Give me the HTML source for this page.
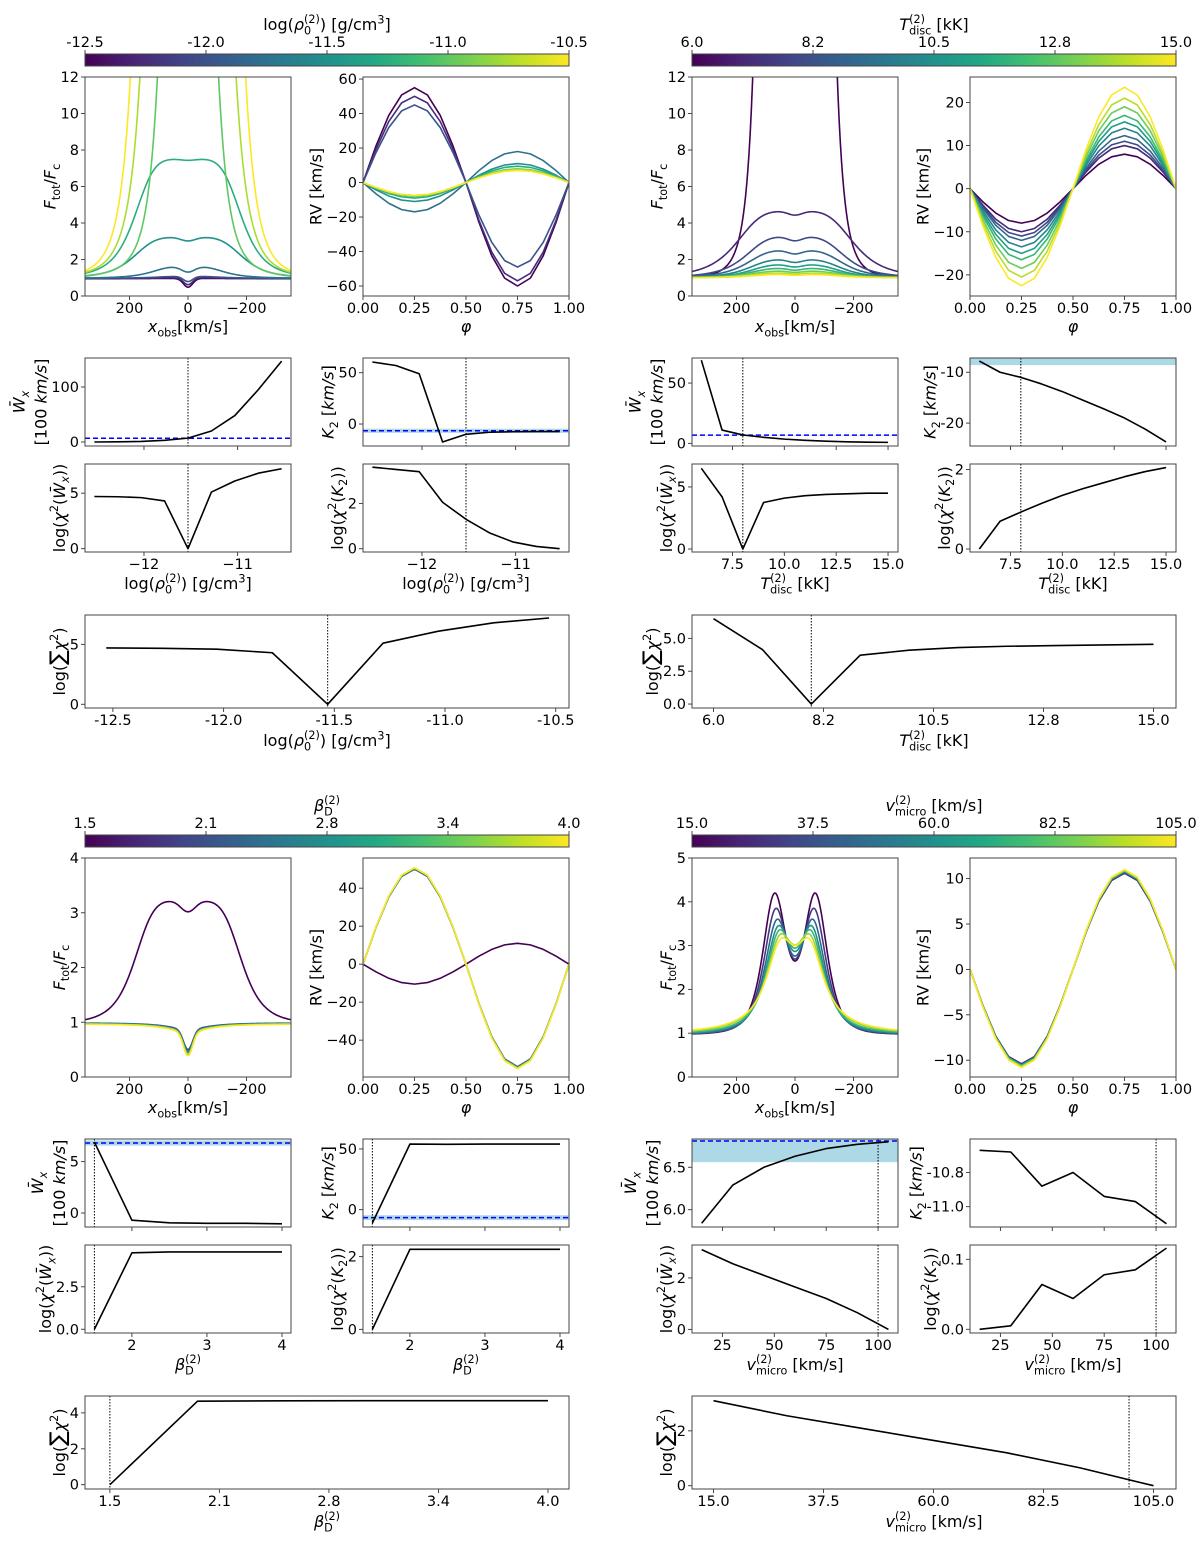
<!DOCTYPE html>
<html><head><meta charset="utf-8">
<style>
html,body{margin:0;padding:0;background:#fff;}
svg text{font-family:"DejaVu Sans","Liberation Sans",sans-serif;fill:#000;}
</style></head>
<body>
<svg id="fig" xmlns="http://www.w3.org/2000/svg" width="1200" height="1538" viewBox="0 0 1200 1538">
<defs>
<linearGradient id="viridis" x1="0" x2="1" y1="0" y2="0">
<stop offset="0" stop-color="#440154"/><stop offset="0.1" stop-color="#482475"/><stop offset="0.2" stop-color="#414487"/><stop offset="0.3" stop-color="#355f8d"/><stop offset="0.4" stop-color="#2a788e"/><stop offset="0.5" stop-color="#21918c"/><stop offset="0.6" stop-color="#22a884"/><stop offset="0.7" stop-color="#44bf70"/><stop offset="0.8" stop-color="#7ad151"/><stop offset="0.9" stop-color="#bddf26"/><stop offset="1" stop-color="#fde725"/>
</linearGradient>
</defs>
</svg>
<script>
// ---------- data ----------
const phases=[0,0.0625,0.125,0.1875,0.25,0.3125,0.375,0.4375,0.5,0.5625,0.625,0.6875,0.75,0.8125,0.875,0.9375,1];
const sineShape=[0,0.3827,0.7071,0.9239,1,0.9239,0.7071,0.3827,0,-0.3827,-0.7071,-0.9239,-1,-0.9239,-0.7071,-0.3827,0];

// density quadrant
const rhoVals=[-12.53,-12.28,-12.03,-11.78,-11.53,-11.28,-11.03,-10.78,-10.53];
const rhoWx=[0,0.3,1,3,7,20,48,95,147];
const rhoK2=[60.4,57,49,-17.5,-10,-8,-7.5,-7.3,-7.3];
const rhoChiWx=[4.7,4.68,4.6,4.3,0,5.1,6.1,6.8,7.2];
const rhoChiK2=[3.6,3.5,3.4,2.05,1.3,0.7,0.3,0.1,0.0];
const rhoSum=[4.7,4.67,4.6,4.3,0,5.1,6.1,6.8,7.2];
const rhoRvPeak=[55,50,45,-17,-11,-9,-8,-7.5,-7.5];
const rhoRvTrough=[-60,-57,-49,18,11,9.5,8,7.5,7];
const rhoProfBase=[0.95,0.96,0.97,0.97,0.97,1,1,1,1];
const rhoProfH=[0.03,0.06,0.12,0.65,2.25,6.5,40,60,80];
const rhoProfHw=[120,120,120,130,190,185,82,122,145];
const rhoProfP=[3,3,3,3.5,4.6,5,4,5,6];
const rhoProfDip=[0,0,0,0.4,0.09,0.01,0,0,0];
const rhoProfAbs=[0.48,0.38,0.28,0.05,0,0,0,0,0];
const rhoProfWing=[0.02,0.02,0.02,0,0,0,0,0,0];

// temperature quadrant
const tVals=[6,7,8,9,10,11,12,13,14,15];
const tWx=[69,11,7,5,3.5,2.5,1.8,1.3,1,0.8];
const tK2=[-7.8,-10,-11,-12.3,-13.8,-15.5,-17.2,-19,-21.2,-23.7];
const tChiWx=[6.5,4.2,0,3.75,4.1,4.3,4.4,4.45,4.5,4.5];
const tChiK2=[0,0.7,0.93,1.15,1.35,1.52,1.67,1.82,1.95,2.05];
const tSum=[6.5,4.15,0,3.72,4.1,4.3,4.4,4.45,4.5,4.55];
const tRvPeak=[-8,-10,-11,-12,-13.5,-15,-16.5,-18.5,-20.5,-22.5];
const tRvTrough=[8,10,11,12.3,14,15.5,17,19,21,23.5];
const tProfBase=[1,1,1,1,1,1,1,1,1,1];
const tProfH=[200,3.65,2.25,1.5,1.0,0.72,0.52,0.37,0.26,0.18];
const tProfHw=[90,205,175,170,165,160,160,160,160,160];
const tProfP=[6,4.2,4,4,4,4,4,4,4,4];
const tProfDip=[0,0.06,0.1,0.13,0.16,0.18,0.2,0.2,0.2,0.25];
const tProfAbs=[0,0,0,0,0,0,0,0,0,0];
const tProfWing=[0,0,0,0,0,0,0,0,0,0];

// beta quadrant
const bVals=[1.5,2,2.5,3,3.5,4];
const bWx=[6.9,-0.7,-0.95,-1.0,-1.0,-1.05];
const bK2=[-11,54,53.8,54,54,54];
const bChiWx=[0,4.5,4.55,4.55,4.55,4.55];
const bChiK2=[0,2.2,2.2,2.2,2.2,2.2];
const bSum=[0,4.65,4.67,4.68,4.68,4.68];
const bRvPeak=[-10.5,50,50.3,50.5,50.6,50.8];
const bRvTrough=[11,-54,-54.3,-54.5,-54.7,-55];
const bProfBase=[0.97,0.99,0.985,0.98,0.975,0.97];
const bProfH=[2.25,0,0,0,0,0];
const bProfHw=[185,100,100,100,100,100];
const bProfP=[5.2,3,3,3,3,3];
const bProfDip=[0.09,0,0,0,0,0];
const bProfAbs=[0,0.37,0.39,0.41,0.42,0.43];
const bProfWing=[0,0.12,0.13,0.14,0.14,0.15];

// microturbulence quadrant
const vVals=[15,30,45,60,75,90,105];
const vWx=[5.84,6.29,6.5,6.63,6.72,6.77,6.8];
const vK2=[-10.67,-10.68,-10.88,-10.8,-10.94,-10.97,-11.1];
const vChiWx=[3.1,2.55,2.1,1.65,1.2,0.65,0];
const vChiK2=[0,0.005,0.064,0.044,0.078,0.085,0.116];
const vSum=[3.1,2.55,2.1,1.65,1.2,0.65,0];
const vRvPeak=[-10.4,-10.45,-10.5,-10.55,-10.6,-10.7,-10.8];
const vRvTrough=[10.6,10.65,10.7,10.8,10.85,10.9,11.0];
const vProfPeak=[4.2,3.85,3.6,3.45,3.35,3.25,3.15];
const vProfCenter=[70,66,62,58,55,52,50];
const vProfWidth=[73,70,67,64,62,61,60];
const vProfPow=[2,1.8,1.6,1.4,1.25,1.1,1];
const vProfBase=0.97;

// observations / best fit
const obsWx=6.81, obsWxErr=0.25, obsK2=-6.6, obsK2Err=2;
const bestRho=-11.53, bestT=8, bestBeta=1.5, bestV=100;

// ---------- helpers ----------
const NS='http://www.w3.org/2000/svg';
const svg=document.getElementById('fig');
function mk(tag,attrs,parent){const e=document.createElementNS(NS,tag);for(const k in attrs)e.setAttribute(k,attrs[k]);(parent||svg).appendChild(e);return e;}
const VIR=['#440154','#482475','#414487','#355f8d','#2a788e','#21918c','#22a884','#44bf70','#7ad151','#bddf26','#fde725'];
function hex(h){return [parseInt(h.slice(1,3),16),parseInt(h.slice(3,5),16),parseInt(h.slice(5,7),16)];}
function viridis(t){t=Math.max(0,Math.min(1,t));const f=t*10,i=Math.min(9,Math.floor(f)),r=f-i;const a=hex(VIR[i]),b=hex(VIR[i+1]);return 'rgb('+a.map((v,k)=>Math.round(v+(b[k]-v)*r)).join(',')+')';}

function mathText(parent,x,y,parts,size,anchor,rot){
  const t=mk('text',{x:x,y:y,'font-size':size,'text-anchor':anchor||'middle'},parent);
  if(rot)t.setAttribute('transform','rotate(-90 '+x+' '+y+')');
  let off=0,lastLen=0,pending=0;
  parts.forEach(p=>{
    const s=p[0],k=p[1]||'';
    const ts=mk('tspan',{},t);
    let target=0,fs=size,dx=pending;pending=0;
    if(k==='sub'||k==='subi'){target=0.28*size;fs=0.7*size;}
    if(k==='sup'){target=-0.42*size;fs=0.7*size;}
    if(k==='supback'){target=-0.45*size;fs=0.7*size;dx=-lastLen;}
    if(k==='big'){fs=1.35*size;}
    if(k==='i'||k==='subi')ts.setAttribute('font-style','italic');
    if(target-off!==0)ts.setAttribute('dy',(target-off).toFixed(2));
    off=target;
    if(dx)ts.setAttribute('dx',(dx).toFixed(2));
    ts.setAttribute('font-size',fs.toFixed(2));
    ts.textContent=s;
    const len=ts.getComputedTextLength();
    if(k==='supback'&&lastLen>len)pending=lastLen-len;
    lastLen=len;
  });
  return t;
}

const OFF={tl:[0,0],tr:[607,0],bl:[0,781],br:[607,781]};
const BOX={profile:[85,77,291,296],rv:[363,77,569,296],wx:[85,358,291,446],k2:[363,358,569,446],cwx:[85,464,291,552],ck2:[363,464,569,552],wide:[85,615,569,708],cbar:[85,54,569,66]};
let clipId=0;

function panel(q,key,xd,yd,o){
  const b=BOX[key],ox=OFF[q][0],oy=OFF[q][1];
  const x0=b[0]+ox,y0=b[1]+oy,x1=b[2]+ox,y1=b[3]+oy;
  const g=mk('g',{});
  
  
  const sx=v=>x0+(v-xd[0])/(xd[1]-xd[0])*(x1-x0);
  const sy=v=>y1-(v-yd[0])/(yd[1]-yd[0])*(y1-y0);
  const cid='clip'+(clipId++);
  const cp=mk('clipPath',{id:cid},g);mk('rect',{x:x0,y:y0,width:x1-x0,height:y1-y0},cp);
  const data=mk('g',{'clip-path':'url(#'+cid+')'},g);
  
  
  const ax=mk('g',{},g);
  o.xt.forEach((v,i)=>{const X=sx(v);mk('line',{x1:X,x2:X,y1:y1,y2:y1+4,stroke:'#333','stroke-width':0.9},ax);
    if(o.xl){const t=mk('text',{x:X,y:y1+17,'font-size':14.5,'text-anchor':'middle'},ax);t.textContent=o.xl[i];
      
      }});
  let maxW=0;
  o.yt.forEach((v,i)=>{const Y=sy(v);mk('line',{x1:x0-4,x2:x0,y1:Y,y2:Y,stroke:'#333','stroke-width':0.9},ax);
    const t=mk('text',{x:x0-6,y:Y+5,'font-size':14.5,'text-anchor':'end'},ax);t.textContent=o.yl[i];
    
    
    maxW=Math.max(maxW,t.getComputedTextLength());});
  mk('rect',{x:x0,y:y0,width:x1-x0,height:y1-y0,fill:'none',stroke:'#444','stroke-width':1},ax);
  if(o.xtitle){const t=mathText(ax,(x0+x1)/2,y1+o.xtOff,o.xtitle,16,'middle',false);
    
    }
  const bx=x0-6-maxW-5;
  if(o.ytitle){const t=mathText(ax,bx,(y0+y1)/2,o.ytitle,16,'middle',true);
    
    }
  if(o.ytitle2){const t1=mathText(ax,bx-22,(y0+y1)/2,o.ytitle2[0],16,'middle',true);
    
    
    const t2=mathText(ax,bx,(y0+y1)/2,o.ytitle2[1],16,'middle',true);
    
    }
  return {sx,sy,data,x0,x1,y0,y1};
}
function poly(P,xs,ys,color,w,name,dash){
  const pts=xs.map((x,i)=>P.sx(x).toFixed(2)+','+P.sy(ys[i]).toFixed(2)).join(' ');
  const e=mk('polyline',{points:pts,fill:'none',stroke:color,'stroke-width':w,'stroke-linejoin':'round'},P.data);
  if(dash)e.setAttribute('stroke-dasharray',dash);
  
  
  return e;
}
function vline(P,v){const X=P.sx(v);const e=mk('line',{x1:X,x2:X,y1:P.y0,y2:P.y1,stroke:'#000','stroke-width':1,'stroke-dasharray':'1.5,1.5'},P.data);
  
  }
function hobs(P,v,err){const a=P.sy(v+err),b=P.sy(v-err);
  const r=mk('rect',{x:P.x0,y:Math.min(a,b),width:P.x1-P.x0,height:Math.abs(b-a),fill:'#add8e6'},P.data);
  
  
  const Y=P.sy(v);const l=mk('line',{x1:P.x0,x2:P.x1,y1:Y,y2:Y,stroke:'#0000ff','stroke-width':1.5,'stroke-dasharray':'5,3'},P.data);
  
  }
function colorbar(q,labels,title){
  const b=BOX.cbar,ox=OFF[q][0],oy=OFF[q][1];
  const g=mk('g',{});
  
  
  const x0=b[0]+ox,y0=b[1]+oy,w=b[2]-b[0],h=b[3]-b[1];
  mk('rect',{x:x0,y:y0,width:w,height:h,fill:'url(#viridis)',stroke:'#444','stroke-width':1},g);
  labels.forEach((s,i)=>{const X=x0+w*i/(labels.length-1);
    mk('line',{x1:X,x2:X,y1:y0,y2:y0-4,stroke:'#333','stroke-width':0.9},g);
    const t=mk('text',{x:X,y:y0-7,'font-size':14.5,'text-anchor':'middle'},g);t.textContent=s;
    
    });
  const t=mathText(g,x0+w/2,y0-24,title,16,'middle',false);
  
  
}
const profGrid=[];for(let x=-355;x<=355;x+=4)profGrid.push(x);
function profileVal(x,i,A){const ax=Math.abs(x);
  return A.base[i]+A.H[i]/(1+Math.pow(ax/A.hw[i],A.p[i]))*(1-A.d[i]*Math.exp(-(x/35)*(x/35)))-A.a[i]*Math.exp(-(x/22)*(x/22))-A.w[i]/(1+(x/80)*(x/80));}
function rvSeries(peak,trough){return sineShape.map(s=>s>=0?peak*s:trough*(-s));}

// ---------- quadrant builder ----------
function quadrant(q,cfg){
  colorbar(q,cfg.cbLabels,cfg.param);
  const n=cfg.vals.length;
  const Pp=panel(q,'profile',[352,-352],cfg.profY,{xt:[200,0,-200],xl:['200','0','\u2212200'],yt:cfg.profYt,yl:cfg.profYl,xtOff:36,
    xtitle:[['x','i'],['obs','sub'],['[km/s]','']],ytitle:[['F','i'],['tot','sub'],['/',''],['F','i'],['c','sub']]});
  for(let i=0;i<n;i++)poly(Pp,profGrid,profGrid.map(x=>cfg.prof(x,i)),viridis(i/(n-1)),1.6,'profile-curve-'+i);
  const Pr=panel(q,'rv',[0,1],cfg.rvY,{xt:[0,0.25,0.5,0.75,1],xl:['0.00','0.25','0.50','0.75','1.00'],yt:cfg.rvYt,yl:cfg.rvYl,xtOff:36,
    xtitle:[['\u03c6','i']],ytitle:[['RV [km/s]','']]});
  for(let i=0;i<n;i++)poly(Pr,phases,rvSeries(cfg.rvPeak[i],cfg.rvTrough[i]),viridis(i/(n-1)),1.6,'rv-curve-'+i);
  const sm={xt:cfg.smXt,xtOff:37};
  const Pw=panel(q,'wx',cfg.smX,cfg.wxY,Object.assign({},sm,{yt:cfg.wxYt,yl:cfg.wxYl,
    ytitle2:[[['W\u0304','i'],['x','subi']],[['[100 ',''],['km/s','i'],[']','']]]}));
  hobs(Pw,obsWx,obsWxErr);vline(Pw,cfg.best);poly(Pw,cfg.vals,cfg.wx,'#000',1.6,'wx-line');
  const Pk=panel(q,'k2',cfg.smX,cfg.k2Y,Object.assign({},sm,{yt:cfg.k2Yt,yl:cfg.k2Yl,
    ytitle:[['K','i'],['2','sub'],[' [',''],['km/s','i'],[']','']]}));
  hobs(Pk,obsK2,obsK2Err);vline(Pk,cfg.best);poly(Pk,cfg.vals,cfg.k2,'#000',1.6,'k2-line');
  const Pcw=panel(q,'cwx',cfg.smX,cfg.cwxY,Object.assign({},sm,{xl:cfg.smXl,yt:cfg.cwxYt,yl:cfg.cwxYl,xtitle:cfg.xtitle,
    ytitle:[['log(',''],['\u03c7','i'],['2','sup'],['(',''],['W\u0304','i'],['x','subi'],['))','']]}));
  vline(Pcw,cfg.best);poly(Pcw,cfg.vals,cfg.cwx,'#000',1.6,'chi2-wx-line');
  const Pck=panel(q,'ck2',cfg.smX,cfg.ck2Y,Object.assign({},sm,{xl:cfg.smXl,yt:cfg.ck2Yt,yl:cfg.ck2Yl,xtitle:cfg.xtitle,
    ytitle:[['log(',''],['\u03c7','i'],['2','sup'],['(',''],['K','i'],['2','sub'],['))','']]}));
  vline(Pck,cfg.best);poly(Pck,cfg.vals,cfg.ck2,'#000',1.6,'chi2-k2-line');
  const Pwd=panel(q,'wide',cfg.wdX,cfg.wdY,{xt:cfg.wdXt,xl:cfg.cbLabels,yt:cfg.wdYt,yl:cfg.wdYl,xtOff:38,xtitle:cfg.xtitle,
    ytitle:[['log(',''],['\u2211','big'],['\u03c7','i'],['2','sup'],[')','']]});
  vline(Pwd,cfg.best);poly(Pwd,cfg.vals,cfg.sum,'#000',1.6,'chi2-sum-line');
}
function modelArr(base,H,hw,p,d,a,w){return {base,H,hw,p,d,a,w};}
const rhoA=modelArr(rhoProfBase,rhoProfH,rhoProfHw,rhoProfP,rhoProfDip,rhoProfAbs,rhoProfWing);
const tA=modelArr(tProfBase,tProfH,tProfHw,tProfP,tProfDip,tProfAbs,tProfWing);
const bA=modelArr(bProfBase,bProfH,bProfHw,bProfP,bProfDip,bProfAbs,bProfWing);
function vProfile(x,i){const c=vProfCenter[i],s=vProfWidth[i],qq=vProfPow[i];
  const L=u=>1/Math.pow(1+(u/s)*(u/s),qq);
  const A=(vProfPeak[i]-vProfBase)/(1+L(2*c));
  return vProfBase+A*(L(x-c)+L(x+c));}

const M='\u2212';
quadrant('tl',{vals:rhoVals,best:bestRho,cbLabels:['-12.5','-12.0','-11.5','-11.0','-10.5'],
  param:[['log(',''],['\u03c1','i'],['0','sub'],['(2)','supback'],[') [g/cm',''],['3','sup'],[']','']],
  xtitle:[['log(',''],['\u03c1','i'],['0','sub'],['(2)','supback'],[') [g/cm',''],['3','sup'],[']','']],
  prof:(x,i)=>profileVal(x,i,rhoA),profY:[0,12],profYt:[0,2,4,6,8,10,12],profYl:['0','2','4','6','8','10','12'],
  rvPeak:rhoRvPeak,rvTrough:rhoRvTrough,rvY:[-65.8,61.2],rvYt:[-60,-40,-20,0,20,40,60],rvYl:[M+'60',M+'40',M+'20','0','20','40','60'],
  smX:[-12.63,-10.43],smXt:[-12,-11],smXl:[M+'12',M+'11'],
  wx:rhoWx,wxY:[-7.3,152.7],wxYt:[0,100],wxYl:['0','100'],
  k2:rhoK2,k2Y:[-21.4,64.3],k2Yt:[0,50],k2Yl:['0','50'],
  cwx:rhoChiWx,cwxY:[-0.3,7.63],cwxYt:[0,5],cwxYl:['0','5'],
  ck2:rhoChiK2,ck2Y:[-0.145,3.74],ck2Yt:[0,2],ck2Yl:['0','2'],
  sum:rhoSum,wdX:[-12.626,-10.44],wdXt:[-12.5,-12,-11.5,-11,-10.5],wdY:[-0.31,7.45],wdYt:[0,5],wdYl:['0','5']});

quadrant('tr',{vals:tVals,best:bestT,cbLabels:['6.0','8.2','10.5','12.8','15.0'],
  param:[['T','i'],['disc','sub'],['(2)','supback'],[' [kK]','']],
  xtitle:[['T','i'],['disc','sub'],['(2)','supback'],[' [kK]','']],
  prof:(x,i)=>profileVal(x,i,tA),profY:[0,12],profYt:[0,2,4,6,8,10,12],profYl:['0','2','4','6','8','10','12'],
  rvPeak:tRvPeak,rvTrough:tRvTrough,rvY:[-24.9,25.9],rvYt:[-20,-10,0,10,20],rvYl:[M+'20',M+'10','0','10','20'],
  smX:[5.55,15.48],smXt:[7.5,10,12.5,15],smXl:['7.5','10.0','12.5','15.0'],
  wx:tWx,wxY:[-2.2,70.8],wxYt:[0,50],wxYl:['0','50'],
  k2:tK2,k2Y:[-24.5,-7.2],k2Yt:[-20,-10],k2Yl:['-20','-10'],
  cwx:tChiWx,cwxY:[-0.24,6.85],cwxYt:[0,5],cwxYl:['0','5'],
  ck2:tChiK2,ck2Y:[-0.075,2.14],ck2Yt:[0,2],ck2Yl:['0','2'],
  sum:tSum,wdX:[5.56,15.46],wdXt:[6,8.25,10.5,12.75,15],wdY:[-0.3,6.78],wdYt:[0,2.5,5],wdYl:['0.0','2.5','5.0']});

quadrant('bl',{vals:bVals,best:bestBeta,cbLabels:['1.5','2.1','2.8','3.4','4.0'],
  param:[['\u03b2','i'],['D','sub'],['(2)','supback']],
  xtitle:[['\u03b2','i'],['D','sub'],['(2)','supback']],
  prof:(x,i)=>profileVal(x,i,bA),profY:[0,4],profYt:[0,1,2,3,4],profYl:['0','1','2','3','4'],
  rvPeak:bRvPeak,rvTrough:bRvTrough,rvY:[-59.4,55.9],rvYt:[-40,-20,0,20,40],rvYl:[M+'40',M+'20','0','20','40'],
  smX:[1.375,4.12],smXt:[2,3,4],smXl:['2','3','4'],
  wx:bWx,wxY:[-1.36,7.2],wxYt:[0,5],wxYl:['0','5'],
  k2:bK2,k2Y:[-14.3,58.2],k2Yt:[0,50],k2Yl:['0','50'],
  cwx:bChiWx,cwxY:[-0.22,4.96],cwxYt:[0,2.5],cwxYl:['0.0','2.5'],
  ck2:bChiK2,ck2Y:[-0.1,2.32],ck2Yt:[0,2],ck2Yl:['0','2'],
  sum:bSum,wdX:[1.358,4.12],wdXt:[1.5,2.125,2.75,3.375,4],wdY:[-0.24,4.94],wdYt:[0,2,4],wdYl:['0','2','4']});

quadrant('br',{vals:vVals,best:bestV,cbLabels:['15.0','37.5','60.0','82.5','105.0'],
  param:[['v','i'],['micro','sub'],['(2)','supback'],[' [km/s]','']],
  xtitle:[['v','i'],['micro','sub'],['(2)','supback'],[' [km/s]','']],
  prof:vProfile,profY:[0,5],profYt:[0,1,2,3,4,5],profYl:['0','1','2','3','4','5'],
  rvPeak:vRvPeak,rvTrough:vRvTrough,rvY:[-11.85,12.27],rvYt:[-10,-5,0,5,10],rvYl:[M+'10',M+'5','0','5','10'],
  smX:[10.35,109.6],smXt:[25,50,75,100],smXl:['25','50','75','100'],
  wx:vWx,wxY:[5.796,6.833],wxYt:[6.0,6.5],wxYl:['6.0','6.5'],
  k2:vK2,k2Y:[-11.119,-10.604],k2Yt:[-11.0,-10.8],k2Yl:['-11.0','-10.8'],
  cwx:vChiWx,cwxY:[-0.14,3.28],cwxYt:[0,2],cwxYl:['0','2'],
  ck2:vChiK2,ck2Y:[-0.0053,0.1205],ck2Yt:[0,0.1],ck2Yl:['0.0','0.1'],
  sum:vSum,wdX:[10.6,109.6],wdXt:[15,37.5,60,82.5,105],wdY:[-0.12,3.27],wdYt:[0,2],wdYl:['0','2']});
</script>
</body></html>
